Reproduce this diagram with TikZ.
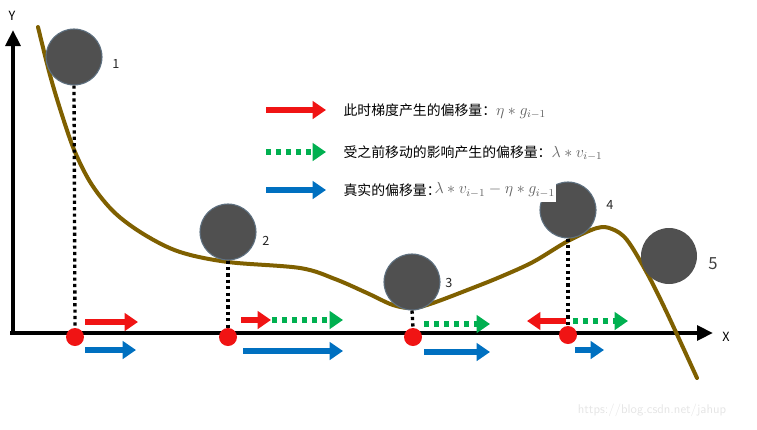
\documentclass[tikz,border=0pt]{standalone}
\usepackage{amsmath}
\usepackage{fontspec}
\usepackage{tikz}
\usetikzlibrary{arrows.meta,calc,positioning}
\newfontfamily\cjk{Noto Sans CJK SC}
\definecolor{curvebrown}{HTML}{7F6000}
\definecolor{ballgray}{HTML}{505050}
\definecolor{ballrim}{HTML}{5E7080}
\definecolor{redarr}{HTML}{F01414}
\definecolor{greenarr}{HTML}{00B050}
\definecolor{bluearr}{HTML}{0070C0}
\newcommand{\mathgray}[1]{\textcolor{black!62}{\fontsize{11.5}{13}\selectfont$#1$}}

\begin{document}
\begin{tikzpicture}[x=0.75pt,y=-0.75pt,>=Latex,
    ball/.style={circle,fill=ballgray,draw=ballrim,line width=0.8pt,minimum size=56*0.75pt,inner sep=0pt},
    stop/.style={circle,fill=redarr,minimum size=18*0.75pt,inner sep=0pt},
    num/.style={font=\cjk\fontsize{9.5}{11}\selectfont,text=black!85},
    drop/.style={line width=2.5pt,dash pattern=on 2.4pt off 2.4pt},
    fat/.style={line width=4.5pt,-{Triangle[length=10pt,width=13pt]}},
    fatdots/.style={fat,dash pattern=on 4pt off 3.5pt},
    legend/.style={anchor=west,inner sep=1pt,font=\cjk\fontsize{10.4}{12}\selectfont}]
  \useasboundingbox (0,0) rectangle (757,429);
  % axes
  \draw[line width=3pt,-{Triangle[length=12pt,width=11pt]}] (10,333) -- (713,333) coordinate (xend);
  \draw[line width=3pt,-{Triangle[length=12pt,width=11pt]}] (13,335) -- (13,30) coordinate (yend);
  \node[font=\cjk\fontsize{9.5}{11}\selectfont] (xlab) at (726,337) {X};
  \node[font=\cjk\fontsize{9.5}{11}\selectfont] (ylab) at (12,16) {Y};
  % the loss curve
  \draw[curvebrown,line width=3pt,line cap=round] plot[smooth,tension=0.55] coordinates {
    (38,27) (50,75) (62,115) (75,152) (92,185) (115,213) (145,235) (180,252)
    (228,262) (300,268) (335,279) (367,293) (393,305) (413,308) (433,303)
    (470,289) (500,277) (533,262) (568,241) (597,228) (612,229) (627,240)
    (647,273) (667,313) (697,378)};
  % balls
  \node[ball] (b1) at (74,57) {};
  \node[ball] (b2) at (228,232) {};
  \node[ball] (b3) at (412,282) {};
  \node[ball] (b4) at (568,210) {};
  \node[ball,draw=none] (b5) at (669,256) {};
  \node[num] (n1) at (116,64) {1};
  \node[num] (n2) at (266,241) {2};
  \node[num] (n3) at (449,283) {3};
  \node[num] (n4) at (610,205) {4};
  \node[num,font=\cjk\fontsize{12.5}{14}\selectfont,text=black!75] (n5) at (713,264) {5};
  % projections onto the x axis
  \node[stop] (p1) at (75,337) {};
  \node[stop] (p2) at (228,337) {};
  \node[stop] (p3) at (413,337) {};
  \node[stop] (p4) at (568,335) {};
  \draw[drop] (b1.south) -- (p1.north);
  \draw[drop] (b2.south) -- (p2.north);
  \draw[drop] (b3.south) -- (p3.north);
  \draw[drop] (b4.south) -- (p4.north);
  % offsets at each point
  \draw[fat,redarr] (85,322) -- (138,322);
  \draw[fat,bluearr] (85,350) -- (136,350);
  \draw[fatdots,greenarr] (272,320) -- (343,320);
  \draw[fat,redarr] (241,320) -- (271,320);
  \draw[fat,bluearr] (243,351) -- (343,351);
  \draw[fatdots,greenarr] (424,324) -- (490,324);
  \draw[fat,bluearr] (424,352) -- (490,352);
  \draw[fat,redarr] (566,321) -- (527,321);
  \draw[fatdots,greenarr] (573,321) -- (628,321);
  \draw[fat,bluearr] (575,350) -- (604,350);
  % legend
  \draw[fat,redarr] (266,110) -- (326,110);
  \draw[fatdots,greenarr] (266,152) -- (326,152);
  \draw[fat,bluearr] (266,190) -- (326,190);
  \node[legend] (l1) at (342,111) {此时梯度产生的偏移量：\mathgray{\eta * g_{i-1}}};
  \node[legend] (l2) at (342,153) {受之前移动的影响产生的偏移量：\mathgray{\lambda * v_{i-1}}};
  \node[legend] (l3) at (342,190) {真实的偏移量：};
  \node[anchor=west,fill=white,inner xsep=1pt,inner ysep=3.5pt]
    (l3m) at ([xshift=-7]l3.east) {\mathgray{\lambda * v_{i-1} - \eta * g_{i-1}}};
  % watermark
  \node[font=\sffamily\fontsize{9.5}{11}\selectfont,text=black!10] (mark) at (652,410) {https://blog.csdn.net/jahup};
\end{tikzpicture}
\end{document}
